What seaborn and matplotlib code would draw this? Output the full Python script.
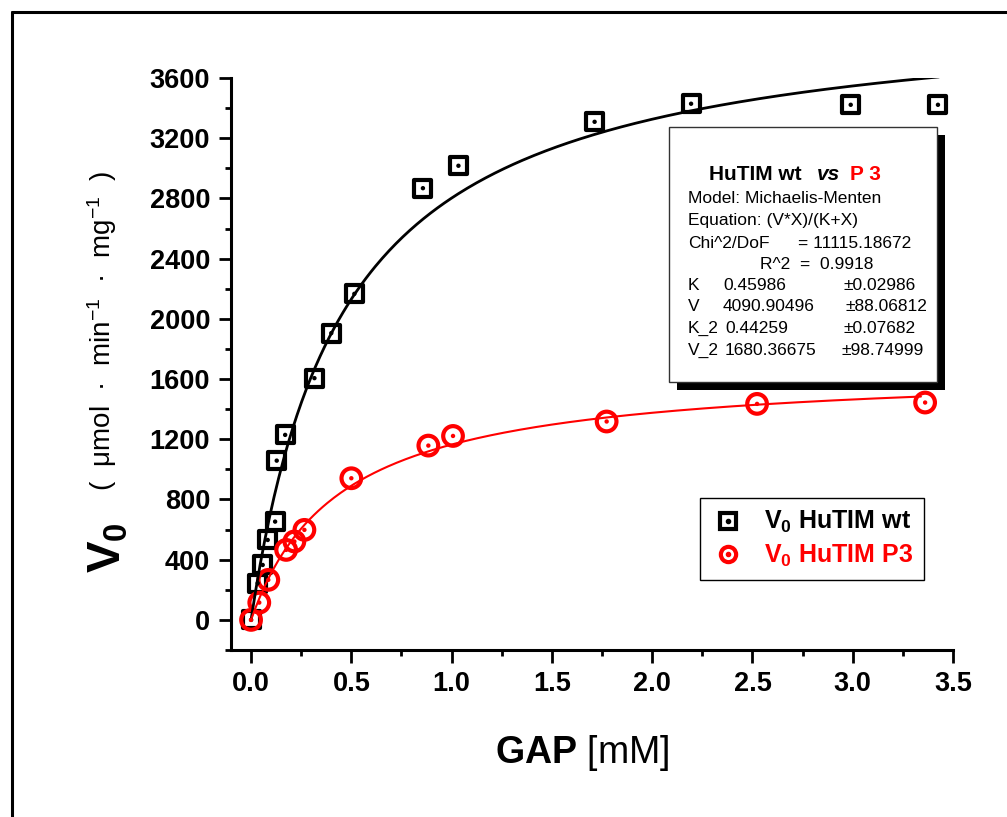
import matplotlib
matplotlib.use('Agg')
import matplotlib.pyplot as plt
import matplotlib.ticker as mtick
from matplotlib.lines import Line2D
from matplotlib.patches import Rectangle
import numpy as np
import seaborn as sns

# measured points, HuTIM wt
wt_gap = [0.0, 0.033, 0.058, 0.083, 0.12, 0.128, 0.17, 0.316, 0.40, 0.515,
          0.857, 1.034, 1.713, 2.194, 2.99, 3.425]
wt_v0 = [0, 244, 365, 531, 653, 1058, 1229, 1606, 1905, 2166,
         2868, 3017, 3309, 3429, 3422, 3422]

# measured points, HuTIM P3
p3_gap = [0.0, 0.041, 0.086, 0.175, 0.216, 0.266, 0.50, 0.884, 1.007,
          1.773, 2.523, 3.361]
p3_v0 = [0, 115, 266, 465, 521, 598, 941, 1158, 1222, 1318, 1435, 1444]

# Michaelis-Menten fit parameters (from the fit report)
K_wt, K_wt_err = 0.45986, 0.02986
V_wt, V_wt_err = 4090.90496, 88.06812
K_p3, K_p3_err = 0.44259, 0.07682
V_p3, V_p3_err = 1680.36675, 98.74999
chi2_dof = 11115.18672
r2 = 0.9918

x_ticks = [0.0, 0.5, 1.0, 1.5, 2.0, 2.5, 3.0, 3.5]
y_ticks = [0, 400, 800, 1200, 1600, 2000, 2400, 2800, 3200, 3600]

W, H = 1007, 817


def fx(px):
    return px / W


def fy(py):
    return 1 - py / H


sns.set_style('ticks')
plt.rcParams['font.family'] = ['Liberation Sans', 'DejaVu Sans']
plt.rcParams['mathtext.fontset'] = 'custom'
plt.rcParams['mathtext.rm'] = 'Liberation Sans'
plt.rcParams['mathtext.bf'] = 'Liberation Sans:bold'
plt.rcParams['mathtext.it'] = 'Liberation Sans:italic'
plt.rcParams['text.color'] = 'black'
plt.rcParams['axes.labelcolor'] = 'black'
plt.rcParams['xtick.color'] = 'black'
plt.rcParams['ytick.color'] = 'black'

fig = plt.figure(figsize=(W / 100, H / 100), dpi=100)
fig.patch.set_facecolor('white')
ax = fig.add_axes([fx(231), fy(650), (953 - 231) / W, (650 - 78) / H])
ax.set_facecolor('white')

# fit curves
xf_wt = np.linspace(0, 3.43, 300)
xf_p3 = np.linspace(0, 3.34, 300)
sns.lineplot(x=xf_wt, y=V_wt * xf_wt / (K_wt + xf_wt), ax=ax,
             color='black', linewidth=2, zorder=4)
sns.lineplot(x=xf_p3, y=V_p3 * xf_p3 / (K_p3 + xf_p3), ax=ax,
             color='red', linewidth=1.5, zorder=4)

# data points
sns.scatterplot(x=wt_gap, y=wt_v0, ax=ax, marker='s', s=150,
                facecolor='none', edgecolor='black', linewidth=3, zorder=3)
sns.scatterplot(x=wt_gap, y=wt_v0, ax=ax, marker='o', s=10,
                color='black', edgecolor='none', zorder=5)
sns.scatterplot(x=p3_gap, y=p3_v0, ax=ax, marker='o', s=200,
                facecolor='none', edgecolor='red', linewidth=3, zorder=3)
sns.scatterplot(x=p3_gap, y=p3_v0, ax=ax, marker='o', s=10,
                color='red', edgecolor='none', zorder=5)

ax.set_xlim(-0.1, 3.5)
ax.set_ylim(-200, 3600)
ax.set_xticks(x_ticks)
ax.set_yticks(y_ticks)
ax.set_xticklabels([f'{v:.1f}' for v in x_ticks], fontweight='bold')
ax.set_yticklabels([str(v) for v in y_ticks], fontweight='bold')
ax.xaxis.set_minor_locator(mtick.MultipleLocator(0.25))
ax.yaxis.set_minor_locator(mtick.MultipleLocator(200))
ax.tick_params(which='major', direction='out', length=9, width=2,
               labelsize=19.5, pad=6, colors='black')
ax.tick_params(which='minor', direction='out', length=4.5, width=2)
for side in ['top', 'right']:
    ax.spines[side].set_visible(False)
for side in ['left', 'bottom']:
    ax.spines[side].set_linewidth(2.2)
    ax.spines[side].set_color('black')

ax.set_xlabel(r'$\mathbf{GAP}$ [mM]', fontsize=27)
ax.xaxis.set_label_coords((582 - 231) / 722, (650 - 733) / 572)
ax.set_ylabel('')

# y label in two sizes
fig.text(fx(109), fy(548), r'$\mathbf{V}_{\mathbf{0}}$', fontsize=34,
         rotation=90, ha='center', va='center')
fig.text(fx(102), fy(331),
         r'(  μmol  ·  min$^{-1}$  ·  mg$^{-1}$  )', fontsize=20,
         rotation=90, ha='center', va='center')

# legend
h_wt = (Line2D([], [], marker='s', ms=11, mfc='none', mec='black', mew=3,
               ls='none'),
        Line2D([], [], marker='o', ms=3, color='black', ls='none'))
h_p3 = (Line2D([], [], marker='o', ms=11, mfc='none', mec='red', mew=3,
               ls='none'),
        Line2D([], [], marker='o', ms=3, color='red', ls='none'))
leg = ax.legend([h_wt, h_p3],
                [r'$\mathbf{V_0}$ HuTIM wt', r'$\mathbf{V_0}$ HuTIM P3'],
                loc='upper left', bbox_to_anchor=(fx(700), fy(498)),
                bbox_transform=fig.transFigure, borderaxespad=0,
                prop={'size': 18, 'weight': 'bold'}, frameon=True,
                fancybox=False, framealpha=1, edgecolor='black',
                handlelength=1.3, handletextpad=0.8, borderpad=0.45,
                labelspacing=0.3)
leg.get_frame().set_linewidth(1)
for txt, col in zip(leg.get_texts(), ['black', 'red']):
    txt.set_color(col)

# fit report box with shadow
fig.add_artist(Rectangle((fx(677), fy(390)), (945 - 677) / W, (390 - 135) / H,
                         transform=fig.transFigure, facecolor='black',
                         edgecolor='none', zorder=10))
fig.add_artist(Rectangle((fx(669), fy(382)), (937 - 669) / W, (382 - 127) / H,
                         transform=fig.transFigure, facecolor='white',
                         edgecolor='#333333', linewidth=1, zorder=11))

fig.text(fx(709), fy(180), 'HuTIM wt', fontsize=15, fontweight='bold',
         zorder=12)
fig.text(fx(817), fy(180), 'vs', fontsize=15, fontweight='bold',
         fontstyle='italic', zorder=12)
fig.text(fx(850), fy(180), 'P 3', fontsize=15, fontweight='bold',
         color='red', zorder=12)

rows = [
    [(688, 'Model: Michaelis-Menten')],
    [(688, 'Equation: (V*X)/(K+X)')],
    [(688, 'Chi^2/DoF'), (798, f'= {chi2_dof:.5f}')],
    [(760, f'R^2  =  {r2}')],
    [(688, 'K'), (723, f'{K_wt:.5f}'), (843, f'±{K_wt_err:.5f}')],
    [(688, 'V'), (723, f'{V_wt:.5f}'), (845, f'±{V_wt_err:.5f}')],
    [(688, 'K_2'), (725, f'{K_p3:.5f}'), (843, f'±{K_p3_err:.5f}')],
    [(688, 'V_2'), (725, f'{V_p3:.5f}'), (841, f'±{V_p3_err:.5f}')],
]
baselines = [203, 225, 248, 269, 290, 311, 333, 355]
for row, yb in zip(rows, baselines):
    for xp, s in row:
        fig.text(fx(xp), fy(yb), s, fontsize=12.5, va='baseline', zorder=12)

# outer frame (left and top edges)
fig.add_artist(Line2D([fx(12), fx(12)], [fy(12), 0], transform=fig.transFigure,
                      color='black', linewidth=2.2))
fig.add_artist(Line2D([fx(12), 1], [fy(12), fy(12)], transform=fig.transFigure,
                      color='black', linewidth=2.2))

fig.savefig('out.png', dpi=100)
